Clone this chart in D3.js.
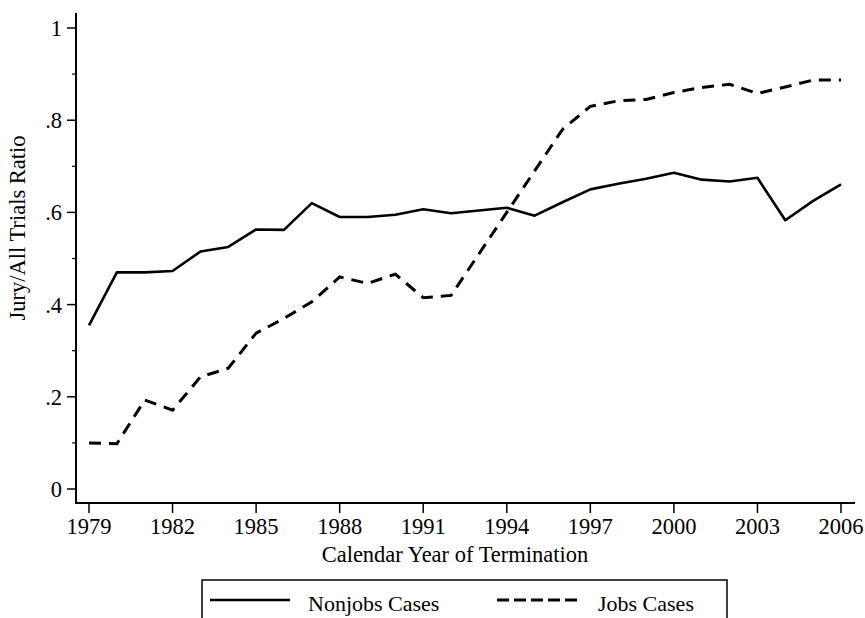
<!DOCTYPE html>
<html>
<head>
<meta charset="utf-8">
<script src="https://cdn.jsdelivr.net/npm/d3@7"></script>
<style>
  body { margin: 0; background: #fff; }
  text { font-family: "Liberation Serif", "Times New Roman", serif; fill: #000; }
</style>
</head>
<body>
<div id="chart"></div>
<script>
const years = d3.range(1979, 2007);
const nonjobs = [0.355, 0.47, 0.47, 0.473, 0.515, 0.525, 0.563, 0.562, 0.62, 0.59,
    0.59, 0.595, 0.607, 0.598, 0.604, 0.61, 0.593, 0.622, 0.65, 0.662,
    0.673, 0.686, 0.671, 0.667, 0.675, 0.583, 0.625, 0.661];
const jobs = [0.1, 0.098, 0.193, 0.171, 0.243, 0.262, 0.338, 0.37, 0.406, 0.46,
    0.446, 0.466, 0.415, 0.42, 0.51, 0.6, 0.69, 0.78, 0.83, 0.842,
    0.845, 0.86, 0.871, 0.878, 0.858, 0.872, 0.887, 0.887];
const xTicks = [1979, 1982, 1985, 1988, 1991, 1994, 1997, 2000, 2003, 2006];
const yTicks = [0, 0.2, 0.4, 0.6, 0.8, 1];
const yMinor = [0.1, 0.3, 0.5, 0.7, 0.9];
const seriesNames = ["Nonjobs Cases", "Jobs Cases"];

const width = 865, height = 618;

const svg = d3.select("#chart").append("svg")
    .attr("width", width)
    .attr("height", height);

const x = d3.scaleLinear().domain([1979, 2006]).range([89, 841]);
const y = d3.scaleLinear().domain([0, 1]).range([489, 28]);

const axisX = 76, axisY = 503;

// axes lines
svg.append("line")
    .attr("x1", axisX).attr("x2", axisX)
    .attr("y1", 13).attr("y2", axisY)
    .attr("stroke", "#000").attr("stroke-width", 2);
svg.append("line")
    .attr("x1", axisX - 1).attr("x2", 855)
    .attr("y1", axisY).attr("y2", axisY)
    .attr("stroke", "#000").attr("stroke-width", 2);

// y ticks
const yg = svg.append("g").attr("transform", `translate(${axisX},0)`);
yg.selectAll(".major").data(yTicks).enter().append("line")
    .attr("x1", -9).attr("x2", 0)
    .attr("y1", d => y(d)).attr("y2", d => y(d))
    .attr("stroke", "#000").attr("stroke-width", 1.5);
yg.selectAll(".minor").data(yMinor).enter().append("line")
    .attr("x1", -4).attr("x2", 0)
    .attr("y1", d => y(d)).attr("y2", d => y(d))
    .attr("stroke", "#000").attr("stroke-width", 1.2);
yg.selectAll("text").data(yTicks).enter().append("text")
    .attr("x", -14).attr("y", d => y(d) + 8)
    .attr("text-anchor", "end")
    .attr("font-size", 22.5)
    .text(d => d === 0 ? "0" : d === 1 ? "1" : d3.format(".1f")(d).replace(/^0/, ""));

// x ticks
const xg = svg.append("g").attr("transform", `translate(0,${axisY})`);
xg.selectAll("line").data(xTicks).enter().append("line")
    .attr("x1", d => x(d)).attr("x2", d => x(d))
    .attr("y1", 0).attr("y2", 10)
    .attr("stroke", "#000").attr("stroke-width", 1.5);
xg.selectAll("text").data(xTicks).enter().append("text")
    .attr("x", d => x(d)).attr("y", 31)
    .attr("text-anchor", "middle")
    .attr("font-size", 22.5)
    .text(d => d);

// axis titles
svg.append("text")
    .attr("x", 455).attr("y", 562)
    .attr("text-anchor", "middle")
    .attr("font-size", 22.5)
    .text("Calendar Year of Termination");
svg.append("text")
    .attr("transform", "translate(25,228) rotate(-90)")
    .attr("text-anchor", "middle")
    .attr("font-size", 22.5)
    .text("Jury/All Trials Ratio");

// lines
const line = d3.line()
    .x((d, i) => x(years[i]))
    .y(d => y(d));

svg.append("path")
    .datum(nonjobs)
    .attr("d", line)
    .attr("fill", "none")
    .attr("stroke", "#000")
    .attr("stroke-width", 2.6)
    .attr("stroke-linejoin", "round");

svg.append("path")
    .datum(jobs)
    .attr("d", line)
    .attr("fill", "none")
    .attr("stroke", "#000")
    .attr("stroke-width", 3)
    .attr("stroke-dasharray", "12,8");

// legend
const lg = svg.append("g");
lg.append("rect")
    .attr("x", 202).attr("y", 580)
    .attr("width", 525).attr("height", 60)
    .attr("fill", "none")
    .attr("stroke", "#000")
    .attr("stroke-width", 1.5);
lg.append("line")
    .attr("x1", 210).attr("x2", 290)
    .attr("y1", 600).attr("y2", 600)
    .attr("stroke", "#000").attr("stroke-width", 2.6);
lg.append("text")
    .attr("x", 308).attr("y", 611)
    .attr("font-size", 22)
    .text(seriesNames[0]);
lg.append("line")
    .attr("x1", 497).attr("x2", 578)
    .attr("y1", 600).attr("y2", 600)
    .attr("stroke", "#000").attr("stroke-width", 3)
    .attr("stroke-dasharray", "12,5");
lg.append("text")
    .attr("x", 598).attr("y", 611)
    .attr("font-size", 22)
    .text(seriesNames[1]);
</script>
</body>
</html>
